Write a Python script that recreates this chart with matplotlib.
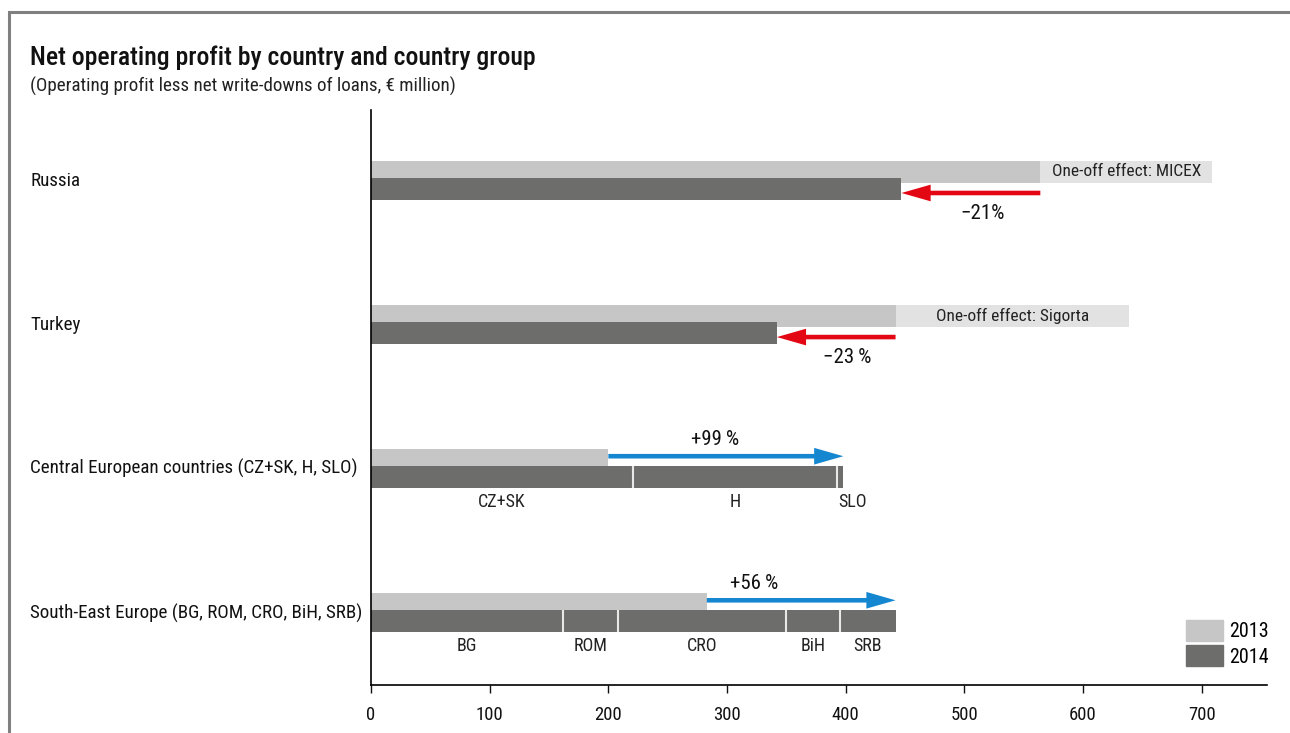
import numpy as np
import matplotlib.pyplot as plt
from matplotlib.patches import Rectangle, Patch
from matplotlib.transforms import blended_transform_factory

plt.rcParams["font.family"] = ["Roboto Condensed", "DejaVu Sans"]

# ── Data (€ million) ───────────────────────────────────────────────────────────
categories = [
    "Russia",
    "Turkey",
    "Central European countries (CZ+SK, H, SLO)",
    "South-East Europe (BG, ROM, CRO, BiH, SRB)",
]
profit_2013 = [564, 442, 200, 283]
profit_2014 = [447, 342, 398, 442]
one_off_total = [709, 639, None, None]          # 2013 incl. one-off effect
one_off_labels = ["One-off effect: MICEX", "One-off effect: Sigorta", None, None]
change_labels = ["\u221221%", "\u221223\u2009%", "+99\u2009%", "+56\u2009%"]

cee_names = ["CZ+SK", "H", "SLO"]
cee_values = [221, 172, 5]
see_names = ["BG", "ROM", "CRO", "BiH", "SRB"]
see_values = [162, 46, 142, 45, 47]

xticks = [0, 100, 200, 300, 400, 500, 600, 700]

# layout
change_label_x = [515, 401, 290, 323]
seg_label_nudge = {"SLO": 10}

C_2013 = "#c6c6c6"
C_2014 = "#6d6d6b"
C_ONEOFF = "#e2e2e2"
C_RED = "#e30613"
C_BLUE = "#1586d0"
W, H = 1290, 733

fig = plt.figure(figsize=(W / 100, H / 100), dpi=100)
ax = fig.add_axes([371 / W, (H - 685) / H, (1267 - 371) / W, (685 - 110) / H])

# grey frame, cut by the image edge on the right and bottom
fig.patches.append(Rectangle((9 / W, -0.1), 1.2, (H - 12) / H + 0.1, transform=fig.transFigure,
                             fill=False, edgecolor="#808080", lw=2.2))

bh = 0.153
off = 0.059
y = np.arange(len(categories))

# 2013 bars + one-off effect
ax.barh(y - off, profit_2013, height=bh, color=C_2013, zorder=1)
for i, tot in enumerate(one_off_total):
    if tot is None:
        continue
    ax.barh(i - off, tot - profit_2013[i], left=profit_2013[i], height=bh, color=C_ONEOFF, zorder=1)
    ax.text((tot + profit_2013[i]) / 2, i - off - 0.005, one_off_labels[i], ha="center", va="center",
            fontsize=12.5, color="#222222")

# 2014 bars (segmented for country groups)
segments = {0: None, 1: None, 2: (cee_names, cee_values), 3: (see_names, see_values)}
for i in y:
    if segments[i] is None:
        ax.barh(i + off, profit_2014[i], height=bh, color=C_2014, zorder=2)
        continue
    names, vals = segments[i]
    left = 0
    for name, v in zip(names, vals):
        ax.barh(i + off, v, left=left, height=bh, color=C_2014, zorder=2)
        if left > 0:
            ax.vlines(left, i + off - bh / 2, i + off + bh / 2, color="#e8e8e8", lw=1.5, zorder=3)
        ax.text(left + v / 2 + seg_label_nudge.get(name, 0), i + 0.228, name, ha="center", va="center",
                fontsize=13, color="#222222")
        left += v

# change arrows
for i in y:
    a, b = profit_2013[i], profit_2014[i]
    down = b < a
    color = C_RED if down else C_BLUE
    ya = i + 0.085 if down else i - 0.088
    ax.annotate("", xy=(b, ya), xytext=(a, ya),
                arrowprops=dict(arrowstyle="simple,head_length=21,head_width=12,tail_width=3.3",
                                mutation_scale=1, color=color, lw=0, shrinkA=0, shrinkB=0),
                zorder=4)
    ty = i + 0.225 if down else i - 0.205
    ax.text(change_label_x[i], ty, change_labels[i], ha="center", va="center", fontsize=15, color="#111111")

# category labels at the left of the figure
trans = blended_transform_factory(fig.transFigure, ax.transData)
for i, name in enumerate(categories):
    ax.text(30 / W, i, name, transform=trans, ha="left", va="center", fontsize=13.7, color="#111111")

ax.set_xlim(0, 755)
ax.set_ylim(3.50, -0.491)
ax.set_xticks(xticks)
ax.set_yticks([])
ax.tick_params(axis="x", length=6, width=1, labelsize=13.5, pad=9, colors="#111111")
for s in ["top", "right"]:
    ax.spines[s].set_visible(False)
ax.spines["left"].set_linewidth(1.2)
ax.spines["bottom"].set_linewidth(1.2)
ax.patch.set_alpha(0)

fig.legend(handles=[Patch(color=C_2013, label="2013"), Patch(color=C_2014, label="2014")],
           loc="upper left", bbox_to_anchor=(1172 / W, (H - 606) / H), frameon=False,
           fontsize=14.4, handlelength=1.85, handleheight=1.25, handletextpad=0.3, labelspacing=0.2,
           borderpad=0.2)

fig.text(30 / W, (H - 65) / H, "Net operating profit by country and country group",
         fontsize=18.5, fontweight="medium", ha="left", va="baseline", color="#111111")
fig.text(30 / W, (H - 86) / H, "(Operating profit less net write-downs of loans, \u20ac million)",
         fontsize=13.7, ha="left", va="center", color="#222222")

fig.savefig("out.png", dpi=100)
